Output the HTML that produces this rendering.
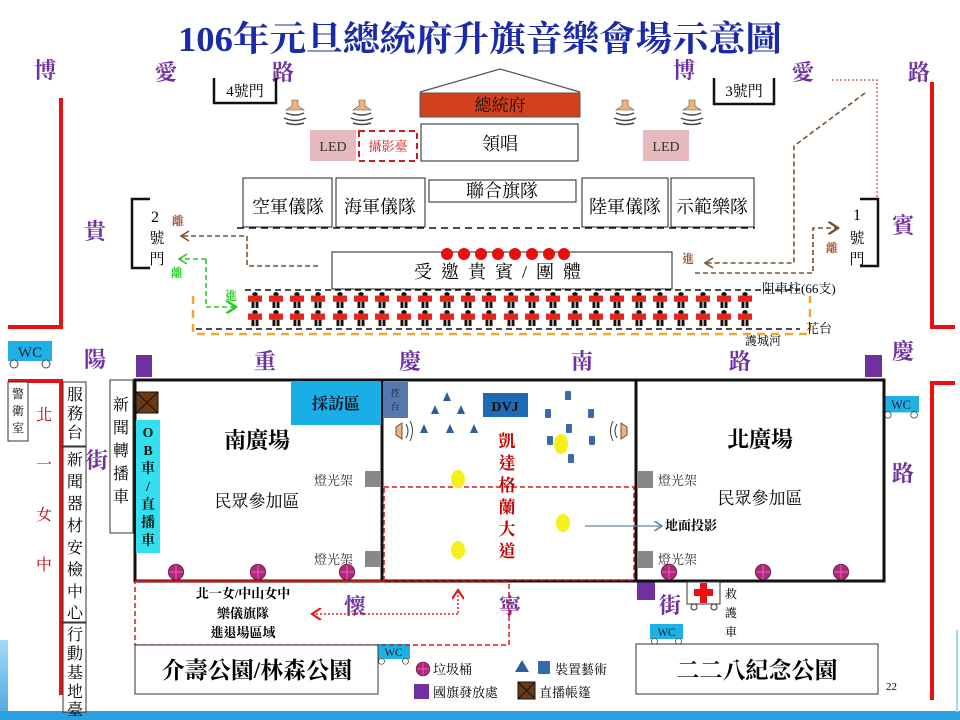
<!DOCTYPE html>
<html><head><meta charset="utf-8"><style>
html,body{margin:0;padding:0;background:#fff;}
svg{display:block;}
text{font-family:"Liberation Serif","Noto Serif CJK TC","Noto Serif CJK SC",serif;}
.st{fill:#7030a0;font-size:22px;font-weight:bold;}
.b{fill:#000;font-size:17px;}
</style></head><body>
<svg width="960" height="720" viewBox="0 0 960 720" xmlns="http://www.w3.org/2000/svg">
<defs>
<symbol id="sol" viewBox="1 0 12 18" preserveAspectRatio="none"><circle cx="7" cy="2.5" r="2.3" fill="#111"/><rect x="1" y="4" width="12" height="7" fill="#e8231b"/><rect x="4" y="11" width="2.5" height="7" fill="#111"/><rect x="7.5" y="11" width="2.5" height="7" fill="#111"/></symbol>
<symbol id="spk" viewBox="0 0 30 30"><path d="M12 2h6v6l6 4H6l6-4z" fill="#f2b27a" stroke="#555" stroke-width=".6"/><path d="M6 15q9 4 18 0M4 20q11 5 22 0M6 25q9 3 18 0" stroke="#444" stroke-width="1.5" fill="none"/></symbol>
<symbol id="bin" viewBox="0 0 20 20"><circle cx="10" cy="10" r="8.5" fill="#a3306f" stroke="#6b1a4a"/><path d="M10 2v16M2 10h16" stroke="#f4c" stroke-width="1.3"/></symbol>
<symbol id="wc" viewBox="0 0 44 28"><rect x="0" y="0" width="44" height="20" fill="#1fb0e6"/><text x="22" y="16" font-size="15" text-anchor="middle" fill="#123">WC</text><circle cx="6" cy="23" r="4" fill="#fff" stroke="#444"/><circle cx="38" cy="23" r="4" fill="#fff" stroke="#444"/></symbol>
<marker id="abr" markerWidth="8" markerHeight="8" refX="7" refY="4" orient="auto"><path d="M1 0L7 4L1 8" stroke="#7a5230" stroke-width="1.5" fill="none"/></marker>
<marker id="ag" markerWidth="8" markerHeight="8" refX="7" refY="4" orient="auto"><path d="M1 0L7 4L1 8" stroke="#22cc22" stroke-width="1.5" fill="none"/></marker>
<marker id="ar" markerWidth="8" markerHeight="8" refX="7" refY="4" orient="auto"><path d="M1 0L7 4L1 8" stroke="#e02020" stroke-width="1.5" fill="none"/></marker>
<marker id="agr" markerWidth="8" markerHeight="8" refX="7" refY="4" orient="auto"><path d="M1 0L7 4L1 8" stroke="#6a86a8" stroke-width="1.3" fill="none"/></marker>
<linearGradient id="bg" x1="0" y1="0" x2="0" y2="1"><stop offset="0" stop-color="#8fd0f5"/><stop offset="1" stop-color="#1a8fd6"/></linearGradient>
</defs>

<rect x="0" y="640" width="8" height="80" fill="url(#bg)" opacity=".8"/>
<rect x="0" y="711" width="960" height="9" fill="#2aa0e0"/>
<line x1="957" y1="630" x2="957" y2="712" stroke="#9fd8f5" stroke-width="2"/>

<text x="480" y="51" text-anchor="middle" font-size="35" font-weight="bold" fill="#1a2aa8" textLength="604" lengthAdjust="spacingAndGlyphs">106年元旦總統府升旗音樂會場示意圖</text>

<g class="st">
<text x="34" y="78" class="st">博</text><text x="155" y="80" class="st">愛</text><text x="272" y="80" class="st">路</text>
<text x="673" y="78" class="st">博</text><text x="792" y="80" class="st">愛</text><text x="908" y="80" class="st">路</text>
<text x="84" y="239" class="st">貴</text><text x="892" y="233" class="st">賓</text>
<text x="84" y="367" class="st">陽</text><text x="254" y="369" class="st">重</text><text x="399" y="369" class="st">慶</text><text x="571" y="369" class="st">南</text><text x="729" y="369" class="st">路</text><text x="892" y="359" class="st">慶</text>
<text x="86" y="468" class="st">街</text><text x="892" y="481" class="st">路</text>
<text x="344" y="614" class="st">懷</text><text x="499" y="614" class="st">寧</text><text x="659" y="613" class="st">街</text>
</g>

<path d="M8 327H61V98" stroke="#e81010" stroke-width="4" fill="none"/>
<path d="M955 327H932V82" stroke="#e81010" stroke-width="4" fill="none"/>
<path d="M8 381H61V695" stroke="#e81010" stroke-width="4" fill="none"/>
<path d="M955 383H932V700" stroke="#e81010" stroke-width="4" fill="none"/>

<path d="M214 78V103H276V78" stroke="#111" stroke-width="2.5" fill="none"/>
<text x="245" y="96" text-anchor="middle" font-size="15">4號門</text>
<path d="M714 78V104H774V78" stroke="#111" stroke-width="2.5" fill="none"/>
<text x="744" y="96" text-anchor="middle" font-size="15">3號門</text>
<path d="M150 199H132V268H150" stroke="#111" stroke-width="2.5" fill="none"/>
<text x="155" y="222" text-anchor="middle" font-size="16">2</text><text x="157" y="243" text-anchor="middle" font-size="15">號</text><text x="157" y="264" text-anchor="middle" font-size="15">門</text>
<path d="M860 199H878V266H860" stroke="#111" stroke-width="2.5" fill="none"/>
<text x="857" y="220" text-anchor="middle" font-size="16">1</text><text x="857" y="243" text-anchor="middle" font-size="15">號</text><text x="857" y="264" text-anchor="middle" font-size="15">門</text>

<path d="M420 92L500 69L580 92" stroke="#555" stroke-width="1.2" fill="none"/>
<rect x="420" y="93" width="160" height="24" fill="#d2401e" stroke="#555"/>
<text x="500" y="111" text-anchor="middle" font-size="17" fill="#111">總統府</text>
<rect x="421" y="124" width="157" height="37" fill="#fff" stroke="#222"/>
<text x="500" y="150" text-anchor="middle" font-size="18">領唱</text>
<use href="#spk" x="280" y="98" width="30" height="30"/>
<use href="#spk" x="347" y="98" width="30" height="30"/>
<use href="#spk" x="610" y="98" width="30" height="30"/>
<use href="#spk" x="677" y="98" width="30" height="30"/>
<rect x="310" y="130" width="46" height="31" fill="#e6b9bd"/>
<text x="333" y="151" text-anchor="middle" font-size="14" fill="#333">LED</text>
<rect x="643" y="130" width="46" height="31" fill="#e6b9bd"/>
<text x="666" y="151" text-anchor="middle" font-size="14" fill="#333">LED</text>
<rect x="359" y="131" width="58" height="30" fill="#fff" stroke="#c82020" stroke-width="2" stroke-dasharray="6,4"/>
<text x="388" y="151" text-anchor="middle" font-size="13" fill="#d02020">攝影臺</text>

<g fill="#fff" stroke="#222">
<rect x="243" y="178" width="89" height="49"/><rect x="336" y="178" width="89" height="49"/>
<rect x="429" y="180" width="147" height="22"/><rect x="582" y="178" width="86" height="49"/><rect x="671" y="178" width="83" height="49"/>
</g>
<g font-size="18" text-anchor="middle">
<text x="288" y="213">空軍儀隊</text><text x="380" y="213">海軍儀隊</text><text x="502" y="197">聯合旗隊</text><text x="625" y="213">陸軍儀隊</text><text x="712" y="213">示範樂隊</text>
</g>
<line x1="237" y1="228" x2="755" y2="228" stroke="#111" stroke-width="1.5" stroke-dasharray="7,5"/>

<rect x="332" y="252" width="340" height="37" fill="#fff" stroke="#222"/>
<text x="502" y="278" text-anchor="middle" font-size="18" letter-spacing="9">受邀貴賓/團體</text>
<g fill="#e80f0f"><circle cx="447" cy="254" r="6"/><circle cx="464" cy="254" r="6"/><circle cx="481" cy="254" r="6"/><circle cx="498" cy="254" r="6"/><circle cx="515" cy="254" r="6"/><circle cx="532" cy="254" r="6"/><circle cx="549" cy="254" r="6"/><circle cx="564" cy="254" r="6"/></g>

<g stroke="#7a5230" stroke-width="1.6" stroke-dasharray="5,3" fill="none">
<path d="M318 266H247V236H182"/>
<path d="M865 93L794 146V263H706"/>
<path d="M695 273H813V228H838" marker-end="url(#abr)"/>
</g>
<path d="M189 231L181 236L189 241" stroke="#7a5230" stroke-width="1.6" fill="none"/>
<path d="M713 258L705 263L713 268" stroke="#7a5230" stroke-width="1.6" fill="none"/>
<text x="172" y="225" font-size="12" fill="#a0522d" font-weight="bold">離</text>
<text x="682" y="263" font-size="12" fill="#a0522d" font-weight="bold">進</text>
<text x="826" y="252" font-size="12" fill="#a0522d" font-weight="bold">離</text>
<path d="M832 80H877V197" stroke="#e06060" stroke-width="1.5" stroke-dasharray="2,2" fill="none"/>
<path d="M206 259V307H236" stroke="#22cc22" stroke-width="1.6" stroke-dasharray="5,3" fill="none" marker-end="url(#ag)"/>
<path d="M206 259H180" stroke="#22cc22" stroke-width="1.6" stroke-dasharray="5,3" fill="none"/>
<path d="M187 254L179 259L187 264" stroke="#22cc22" stroke-width="1.6" fill="none"/>
<text x="171" y="277" font-size="12" fill="#22cc22" font-weight="bold">離</text>
<text x="225" y="300" font-size="12" fill="#22cc22" font-weight="bold">進</text>

<line x1="245" y1="290" x2="800" y2="290" stroke="#111" stroke-width="1.5" stroke-dasharray="6,4"/>
<line x1="196" y1="329" x2="800" y2="329" stroke="#111" stroke-width="1.5" stroke-dasharray="6,4"/>
<path d="M193 296V334H810V296" stroke="#f0a830" stroke-width="2.5" stroke-dasharray="8,6" fill="none"/>
<g>
<use href="#sol" x="248" y="292" width="14" height="16"/><use href="#sol" x="269" y="292" width="14" height="16"/><use href="#sol" x="290" y="292" width="14" height="16"/><use href="#sol" x="311" y="292" width="14" height="16"/><use href="#sol" x="333" y="292" width="14" height="16"/><use href="#sol" x="354" y="292" width="14" height="16"/><use href="#sol" x="375" y="292" width="14" height="16"/><use href="#sol" x="397" y="292" width="14" height="16"/><use href="#sol" x="418" y="292" width="14" height="16"/><use href="#sol" x="440" y="292" width="14" height="16"/><use href="#sol" x="461" y="292" width="14" height="16"/><use href="#sol" x="482" y="292" width="14" height="16"/><use href="#sol" x="504" y="292" width="14" height="16"/><use href="#sol" x="525" y="292" width="14" height="16"/><use href="#sol" x="546" y="292" width="14" height="16"/><use href="#sol" x="568" y="292" width="14" height="16"/><use href="#sol" x="589" y="292" width="14" height="16"/><use href="#sol" x="610" y="292" width="14" height="16"/><use href="#sol" x="632" y="292" width="14" height="16"/><use href="#sol" x="653" y="292" width="14" height="16"/><use href="#sol" x="674" y="292" width="14" height="16"/><use href="#sol" x="696" y="292" width="14" height="16"/><use href="#sol" x="717" y="292" width="14" height="16"/><use href="#sol" x="738" y="292" width="14" height="16"/>
<use href="#sol" x="248" y="310" width="14" height="16"/><use href="#sol" x="269" y="310" width="14" height="16"/><use href="#sol" x="290" y="310" width="14" height="16"/><use href="#sol" x="311" y="310" width="14" height="16"/><use href="#sol" x="333" y="310" width="14" height="16"/><use href="#sol" x="354" y="310" width="14" height="16"/><use href="#sol" x="375" y="310" width="14" height="16"/><use href="#sol" x="397" y="310" width="14" height="16"/><use href="#sol" x="418" y="310" width="14" height="16"/><use href="#sol" x="440" y="310" width="14" height="16"/><use href="#sol" x="461" y="310" width="14" height="16"/><use href="#sol" x="482" y="310" width="14" height="16"/><use href="#sol" x="504" y="310" width="14" height="16"/><use href="#sol" x="525" y="310" width="14" height="16"/><use href="#sol" x="546" y="310" width="14" height="16"/><use href="#sol" x="568" y="310" width="14" height="16"/><use href="#sol" x="589" y="310" width="14" height="16"/><use href="#sol" x="610" y="310" width="14" height="16"/><use href="#sol" x="632" y="310" width="14" height="16"/><use href="#sol" x="653" y="310" width="14" height="16"/><use href="#sol" x="674" y="310" width="14" height="16"/><use href="#sol" x="696" y="310" width="14" height="16"/><use href="#sol" x="717" y="310" width="14" height="16"/><use href="#sol" x="738" y="310" width="14" height="16"/>
</g>
<text x="762" y="293" font-size="13">阻車柱(66支)</text>
<text x="806" y="333" font-size="13">花台</text>
<text x="745" y="345" font-size="12">護城河</text>

<use href="#wc" x="8" y="341" width="44" height="28"/>
<use href="#wc" x="883" y="395" width="36" height="25"/>
<use href="#wc" x="377" y="643" width="33" height="23"/>
<use href="#wc" x="650" y="623" width="33" height="23"/>

<g fill="#7030a0"><rect x="136" y="355" width="16" height="22"/><rect x="865" y="355" width="17" height="22"/><rect x="136" y="561" width="18" height="19"/><rect x="637" y="581" width="18" height="19"/></g>

<rect x="8" y="382" width="20" height="59" fill="#fff" stroke="#333"/>
<text x="18" y="398" font-size="12" text-anchor="middle">警</text><text x="18" y="415" font-size="12" text-anchor="middle">衛</text><text x="18" y="432" font-size="12" text-anchor="middle">室</text>
<g fill="#c00000" font-size="16" text-anchor="middle"><text x="44" y="420">北</text><text x="44" y="470">一</text><text x="44" y="520">女</text><text x="44" y="570">中</text></g>
<g fill="#fff" stroke="#333"><rect x="63" y="382" width="23" height="64"/><rect x="63" y="447" width="23" height="175"/><rect x="63" y="623" width="23" height="89"/></g>
<g font-size="16" text-anchor="middle">
<text x="75" y="400">服</text><text x="75" y="419">務</text><text x="75" y="438">台</text>
<text x="75" y="465">新</text><text x="75" y="487">聞</text><text x="75" y="509">器</text><text x="75" y="531">材</text><text x="75" y="553">安</text><text x="75" y="575">檢</text><text x="75" y="597">中</text><text x="75" y="618">心</text>
<text x="75" y="640">行</text><text x="75" y="659">動</text><text x="75" y="678">基</text><text x="75" y="697">地</text><text x="75" y="715">臺</text>
</g>
<rect x="110" y="380" width="23" height="153" fill="#fff" stroke="#333"/>
<g font-size="16" text-anchor="middle"><text x="121" y="410">新</text><text x="121" y="433">聞</text><text x="121" y="456">轉</text><text x="121" y="479">播</text><text x="121" y="502">車</text></g>

<rect x="135" y="380" width="749" height="201" fill="#fff" stroke="#111" stroke-width="3"/>
<line x1="382" y1="380" x2="382" y2="581" stroke="#111" stroke-width="3"/>
<line x1="636" y1="380" x2="636" y2="581" stroke="#111" stroke-width="3"/>
<rect x="384" y="487" width="250" height="93" fill="none" stroke="#d02020" stroke-width="1.5" stroke-dasharray="5,3"/>
<line x1="135" y1="581" x2="384" y2="581" stroke="#d02020" stroke-width="1.5"/>
<rect x="135" y="582" width="374" height="63" fill="none" stroke="#d02020" stroke-width="1.5" stroke-dasharray="5,3"/>

<rect x="136" y="392" width="22" height="21" fill="#6b3a12" stroke="#111"/><path d="M136 392L158 413M158 392L136 413" stroke="#111"/>
<rect x="136" y="420" width="24" height="133" fill="#33e0ef"/>
<g font-size="14" fill="#111" text-anchor="middle" font-weight="bold"><text x="148" y="437">O</text><text x="148" y="455">B</text><text x="148" y="473">車</text><text x="148" y="491">/</text><text x="148" y="509">直</text><text x="148" y="527">播</text><text x="148" y="545">車</text></g>
<rect x="291" y="381" width="90" height="44" fill="#1aaee6"/>
<text x="336" y="409" font-size="16" text-anchor="middle" font-weight="bold" fill="#112">採訪區</text>
<rect x="383" y="382" width="25" height="36" fill="#5579ae"/>
<text x="395" y="396" font-size="9" text-anchor="middle" fill="#223">控</text><text x="395" y="410" font-size="9" text-anchor="middle" fill="#223">台</text>
<text x="257" y="448" font-size="22" text-anchor="middle" font-weight="bold">南廣場</text>
<text x="257" y="507" font-size="17" text-anchor="middle">民眾參加區</text>
<text x="314" y="485" font-size="13" fill="#333">燈光架</text><rect x="365" y="471" width="16" height="16" fill="#888"/>
<text x="314" y="564" font-size="13" fill="#333">燈光架</text><rect x="365" y="551" width="16" height="16" fill="#888"/>
<use href="#bin" x="167" y="563" width="18" height="18"/><use href="#bin" x="249" y="563" width="18" height="18"/><use href="#bin" x="338" y="563" width="18" height="18"/>

<g fill="#2f5e96"><path d="M447 392l-4 9h8z"/><path d="M435 405l-4 9h8z"/><path d="M461 405l-4 9h8z"/><path d="M424 424l-4 9h8z"/><path d="M450 424l-4 9h8z"/><path d="M474 424l-4 9h8z"/></g>
<rect x="483" y="393" width="45" height="24" fill="#1e6bb5"/>
<text x="505" y="411" font-size="14" text-anchor="middle" font-weight="bold" fill="#111">DVJ</text>
<g fill="#3b68a8"><rect x="565" y="391" width="6" height="9" rx="1"/><rect x="545" y="409" width="6" height="9" rx="1"/><rect x="588" y="409" width="6" height="9" rx="1"/><rect x="566" y="424" width="6" height="9" rx="1"/><rect x="547" y="436" width="6" height="9" rx="1"/><rect x="589" y="436" width="6" height="9" rx="1"/><rect x="568" y="454" width="6" height="9" rx="1"/></g>
<g fill="#f4f11a"><ellipse cx="561" cy="444" rx="7" ry="10"/><ellipse cx="458" cy="479" rx="7" ry="9"/><ellipse cx="563" cy="523" rx="7" ry="9"/><ellipse cx="458" cy="550" rx="7" ry="9"/></g>
<g fill="#c00000" font-size="17" text-anchor="middle" font-weight="bold"><text x="507" y="447">凱</text><text x="507" y="469">達</text><text x="507" y="491">格</text><text x="507" y="513">蘭</text><text x="507" y="535">大</text><text x="507" y="557">道</text></g>
<path d="M396 427l6-4v16l-6-4z" fill="#f2b27a" stroke="#555"/><path d="M406 424q4 7 0 14M410 421q5 10 0 20" stroke="#444" fill="none"/>
<path d="M627 427l-6-4v16l6-4z" fill="#f2b27a" stroke="#555"/><path d="M617 424q-4 7 0 14M613 421q-5 10 0 20" stroke="#444" fill="none"/>
<line x1="585" y1="526" x2="662" y2="526" stroke="#6a86a8" stroke-width="1.3" marker-end="url(#agr)"/>
<text x="665" y="530" font-size="13" font-weight="bold">地面投影</text>

<text x="760" y="447" font-size="22" text-anchor="middle" font-weight="bold">北廣場</text>
<text x="760" y="504" font-size="17" text-anchor="middle">民眾參加區</text>
<rect x="637" y="471" width="16" height="17" fill="#888"/><text x="658" y="485" font-size="13" fill="#333">燈光架</text>
<rect x="637" y="551" width="16" height="17" fill="#888"/><text x="658" y="564" font-size="13" fill="#333">燈光架</text>
<use href="#bin" x="660" y="563" width="18" height="18"/><use href="#bin" x="754" y="563" width="18" height="18"/><use href="#bin" x="832" y="563" width="18" height="18"/>

<rect x="687" y="582" width="33" height="22" fill="#fff" stroke="#333"/>
<path d="M700 583h7v6h6v7h-6v7h-7v-7h-6v-7h6z" fill="#e81010"/>
<circle cx="694" cy="607" r="3" fill="#fff" stroke="#333"/><circle cx="714" cy="607" r="3" fill="#fff" stroke="#333"/>
<g font-size="12" text-anchor="middle"><text x="731" y="598">救</text><text x="731" y="617">護</text><text x="731" y="636">車</text></g>

<g font-size="13" text-anchor="middle" font-weight="bold"><text x="243" y="598">北一女/中山女中</text><text x="243" y="618">樂儀旗隊</text><text x="243" y="637">進退場區域</text></g>
<path d="M458 613V590" stroke="#e02020" stroke-width="1.5" stroke-dasharray="2,2" fill="none" marker-end="url(#ar)"/>
<path d="M458 614H312" stroke="#e02020" stroke-width="1.5" stroke-dasharray="2,2" fill="none" marker-end="url(#ar)"/>

<rect x="135" y="645" width="243" height="49" fill="#fff" stroke="#333"/>
<text x="257" y="678" font-size="23" text-anchor="middle" font-weight="bold">介壽公園/林森公園</text>
<rect x="636" y="644" width="242" height="50" fill="#fff" stroke="#333"/>
<text x="757" y="678" font-size="23" text-anchor="middle" font-weight="bold">二二八紀念公園</text>

<use href="#bin" x="415" y="661" width="16" height="16"/><text x="433" y="674" font-size="13">垃圾桶</text>
<path d="M522 660l-7 12h14z" fill="#2f5e96"/><rect x="538" y="661" width="12" height="13" rx="1" fill="#3b68a8"/><text x="555" y="674" font-size="13">裝置藝術</text>
<rect x="414" y="684" width="15" height="15" fill="#7030a0"/><text x="433" y="697" font-size="13">國旗發放處</text>
<rect x="518" y="682" width="17" height="17" fill="#6b3a12" stroke="#111"/><path d="M518 682L535 699M535 682L518 699" stroke="#111"/><text x="539" y="697" font-size="13">直播帳篷</text>
<text x="886" y="690" font-size="11" font-family="Liberation Sans">22</text>
</svg>
</body></html>
